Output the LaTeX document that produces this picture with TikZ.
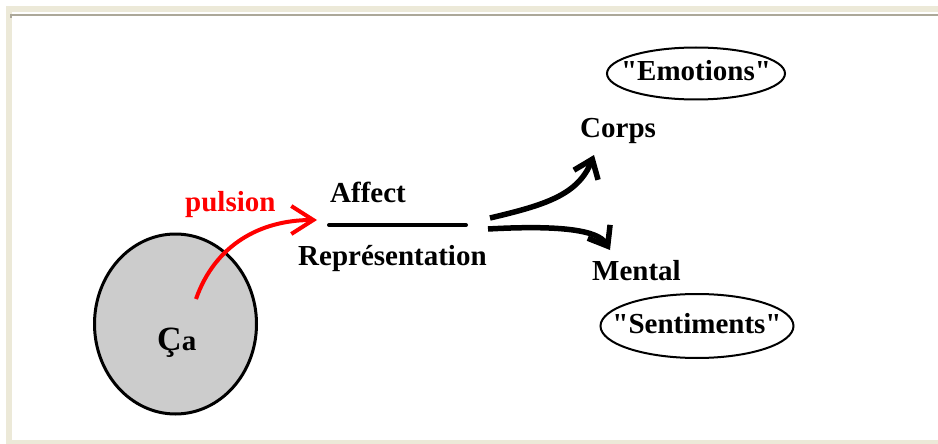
\documentclass[tikz,border=0pt]{standalone}
\usepackage{fontspec}
\setmainfont{Liberation Serif}
\usetikzlibrary{arrows.meta,shapes.geometric}
\definecolor{frameb}{HTML}{ECE9D8}
\definecolor{frameg}{HTML}{ACA899}
\definecolor{cagray}{HTML}{CCCCCC}
\definecolor{pred}{HTML}{FF0000}
\begin{document}
\begin{tikzpicture}[x=1pt,y=-1pt,
  lbl/.style={inner sep=0pt, anchor=base west, font=\fontsize{29}{29}\selectfont\bfseries},
  clbl/.style={inner sep=0pt, anchor=base, font=\fontsize{29}{29}\selectfont\bfseries},
  oval/.style={draw, ellipse, line width=2pt, inner sep=0pt},
  blackarrow/.style={line width=5.5pt, -{Straight Barb[length=17pt,width=26pt]}},
  redarrow/.style={pred, line width=4pt, -{Straight Barb[length=22pt,width=28pt]}}]
\useasboundingbox (0,0) rectangle (938,444);
\fill[white] (0,0) rectangle (938,444);
\fill[frameb] (6,6) rectangle (938,444);
\fill[white] (12,12) rectangle (938,440);
\fill[frameg] (12,14) rectangle (938,16);
\fill[frameg] (10,14) rectangle (12,18);

% Ca circle
\node[draw, ellipse, fill=cagray, line width=3pt, minimum width=162pt, minimum height=180pt, inner sep=0pt] (ca) at (175.5,324) {};
\node[lbl] (catext) at (157,350) {{\fontsize{34}{34}\selectfont Ç}a};

% labels
\node[lbl, text=pred] (pulsion) at (185,211) {pulsion};
\node[lbl] (affect) at (330,202) {Affect};
\node[lbl] (repr) at (298,265) {Représentation};
\node[lbl] (corps) at (580,137) {Corps};
\node[lbl] (mental) at (592,280) {Mental};

% ellipses
\node[oval, minimum width=178pt, minimum height=52pt] (emo) at (696,73.5) {};
\node[clbl] (emotext) at (696,81) {\textquotedbl Emotions\textquotedbl};
\node[oval, minimum width=193pt, minimum height=64pt] (sen) at (697,326) {};
\node[clbl] (sentext) at (697,333) {\textquotedbl Sentiments\textquotedbl};

% bar
\coordinate (barL) at (329,225);
\coordinate (barR) at (466,225);
\draw[line width=4pt, line cap=round] (barL) -- (barR);

% red arrow
\coordinate (pstart) at (196,299);
\coordinate (ptip) at (317,220);
\draw[redarrow] (pstart) .. controls (215,245) and (260,220) .. (ptip);

% black arrows
\coordinate (corpsS) at (490,218);
\coordinate (corpsT) at (594,155);
\draw[blackarrow] (corpsS) .. controls (545,205) and (578,195) .. (corpsT);
\coordinate (mentS) at (488,229);
\coordinate (mentT) at (610,250);
\draw[blackarrow] (mentS) .. controls (560,225) and (598,230) .. (mentT);
\end{tikzpicture}
\end{document}
